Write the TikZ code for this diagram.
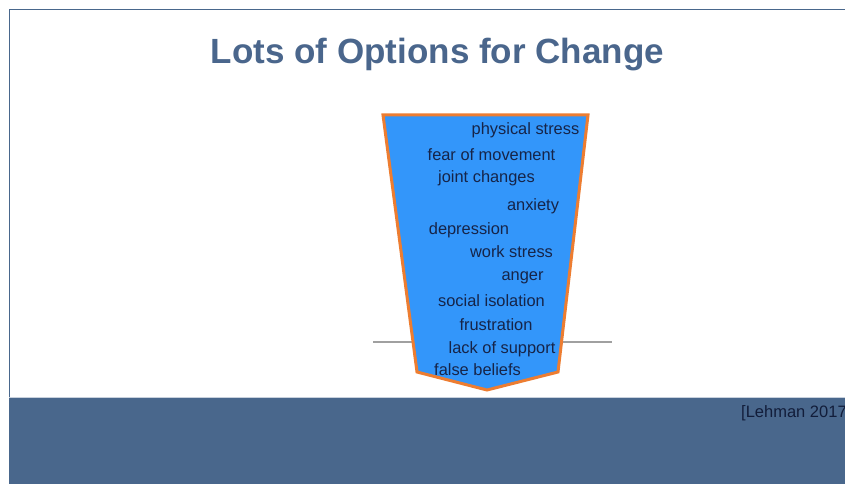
\documentclass[tikz,border=0pt]{standalone}
\usepackage{fontspec}
\setmainfont{Liberation Sans}
\definecolor{slate}{RGB}{73,103,140}
\definecolor{titleblue}{RGB}{74,102,140}
\definecolor{cupblue}{RGB}{51,150,250}
\definecolor{cuprim}{RGB}{237,125,49}
\definecolor{wordink}{RGB}{22,36,72}
\definecolor{rule}{RGB}{160,160,160}
\tikzset{
  word/.style={text=wordink, font=\fontsize{16.4}{19}\selectfont, inner sep=0pt, anchor=base},
}
\begin{document}
\begin{tikzpicture}[x=1pt,y=-1pt]
\useasboundingbox (0,0) rectangle (845,484);
\fill[white] (0,0) rectangle (845,484);
% slide frame and footer band
\draw[slate, line width=1.2pt] (9.5,484) -- (9.5,9.5) -- (845,9.5);
\fill[slate] (9,397) rectangle (845,484);
\draw[white!70!slate, line width=0.8pt] (9,397) -- (845,397);
% title
\node[text=titleblue, font=\bfseries\fontsize{35}{40}\selectfont, anchor=base, inner sep=0pt] (title) at (437.5,64) {Lots of Options for Change};
% ground line behind the cup
\coordinate (gl) at (373,342);
\coordinate (gr) at (612,342);
\draw[rule, line width=1.5pt] (gl) -- (gr);
% the cup
\draw[cuprim, fill=cupblue, line width=3pt, line join=miter]
  (383,115) -- (588,115) -- (558,372) -- (487,390) -- (417,372) -- cycle;
% contents
\node[word] (w1) at (525.5,135) {physical stress};
\node[word] (w2) at (491.5,160) {fear of movement};
\node[word] (w3) at (486.5,182) {joint changes};
\node[word] (w4) at (533,210) {anxiety};
\node[word] (w5) at (469,234) {depression};
\node[word] (w6) at (511.5,257) {work stress};
\node[word] (w7) at (522.5,280) {anger};
\node[word] (w8) at (491.5,306) {social isolation};
\node[word] (w9) at (496,330) {frustration};
\node[word] (w10) at (502,353) {lack of support};
\node[word] (w11) at (477.5,375) {false beliefs};
% citation, running off the right edge
\begin{scope}
\clip (0,0) rectangle (845,484);
\node[text=wordink!80!black, font=\fontsize{16.5}{19}\selectfont, anchor=base west, inner sep=0pt] (cite) at (741,417) {[Lehman 2017]};
\end{scope}
\end{tikzpicture}
\end{document}
